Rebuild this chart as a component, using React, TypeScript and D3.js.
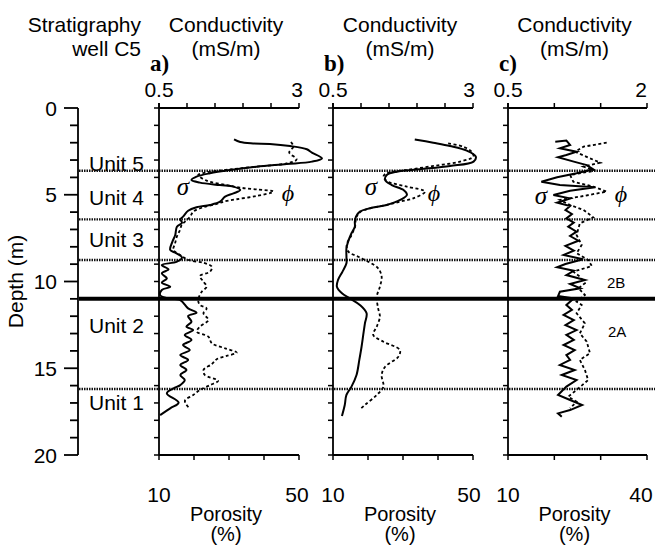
import React from "react";
import * as d3 from "d3";

// ---------- DATA (depth in m, conductivity in mS/m, porosity in %) ----------
const depthTicksMajor = [0, 5, 10, 15, 20];
const depthTicksMinor = d3.range(0, 21, 1);

const unitNames = ["Unit 5", "Unit 4", "Unit 3", "Unit 2", "Unit 1"];
const unitLabelDepths = [3.17, 5.16, 7.58, 12.54, 16.97];
const unitBoundaries = [3.62, 6.42, 8.76, 16.2];
const subunitBoundary = 11.0;

// Panel a
const aSigma: [number, number][] = [
  [1.81, 1.84], [1.96, 1.95], [2.04, 2.18], [2.07, 2.48], [2.19, 2.84], [2.38, 3.14], [2.57, 3.23], [2.9, 3.41],
  [3.09, 3.23], [3.23, 2.78], [3.38, 2.24], [3.57, 1.77], [3.76, 1.41], [3.96, 1.17], [4.15, 1.08], [4.3, 1.23],
  [4.44, 1.59], [4.53, 1.83], [4.73, 1.95], [4.92, 1.83], [5.11, 1.68], [5.4, 1.59], [5.59, 1.41], [5.72, 1.17],
  [5.92, 1.02], [6.26, 0.93], [6.42, 0.88], [6.61, 0.91], [6.84, 0.82], [7.32, 0.79], [7.7, 0.74], [8.18, 0.7],
  [8.34, 0.79], [8.61, 0.91], [8.86, 0.82], [9.05, 0.55], [9.3, 0.67], [9.53, 0.55], [9.82, 0.64], [10.07, 0.55],
  [10.3, 0.7], [10.49, 0.55], [10.78, 0.52], [10.95, 0.64], [11.07, 0.88], [11.55, 1.02], [11.8, 1.17], [11.99, 1.02],
  [12.32, 1.08], [12.6, 0.99], [12.8, 1.11], [13.08, 0.96], [13.37, 1.08], [13.66, 0.93], [13.95, 1.05], [14.24, 0.88],
  [14.52, 1.02], [14.81, 0.88], [15.1, 0.99], [15.39, 0.88], [15.68, 0.96], [15.97, 0.88], [16.16, 0.76], [16.45, 0.64],
  [16.98, 0.85], [17.31, 0.7], [17.7, 0.52],
];
const aPhi: [number, number][] = [
  [1.96, 47.7], [2.23, 48.4], [2.56, 47.2], [2.96, 49.3], [3.19, 46.5], [3.38, 37.9], [3.54, 30.3], [3.71, 23.6],
  [3.86, 21.2], [4.19, 23.6], [4.44, 29.3], [4.59, 33.1], [4.69, 37.9], [4.82, 42.7], [5.07, 37.9], [5.26, 32.2],
  [5.4, 28.4], [5.53, 26.5], [5.72, 22.7], [5.97, 19.8], [6.26, 18.9], [6.46, 17.9], [6.74, 16.5], [7.03, 16.0],
  [7.42, 15.1], [7.8, 14.6], [8.18, 14.1], [8.47, 16.0], [8.76, 18.4], [8.92, 22.7], [9.15, 25.1], [9.43, 24.6],
  [9.68, 21.7], [10.01, 22.7], [10.3, 23.6], [10.59, 22.2], [11.07, 21.2], [11.35, 21.7], [11.55, 23.6], [11.83, 22.7],
  [12.22, 24.1], [12.6, 21.7], [12.89, 20.8], [13.18, 24.1], [13.56, 25.1], [13.85, 28.9], [14.1, 32.2], [14.29, 29.3],
  [14.48, 26.5], [14.76, 25.1], [15.1, 22.7], [15.39, 23.1], [15.72, 26.9], [15.97, 24.6], [16.25, 21.7], [16.54, 19.8],
  [16.87, 17.4], [17.25, 18.4],
];

// Panel b
const bSigma: [number, number][] = [
  [1.81, 1.96], [2.0, 2.29], [2.19, 2.59], [2.46, 2.89], [2.8, 3.05], [3.09, 3.01], [3.34, 2.59], [3.53, 2.05],
  [3.67, 1.64], [3.86, 1.46], [4.15, 1.43], [4.44, 1.55], [4.73, 1.76], [5.01, 1.82], [5.3, 1.7], [5.59, 1.46],
  [5.78, 1.16], [5.97, 0.98], [6.26, 0.91], [6.55, 0.89], [6.84, 0.89], [7.22, 0.83], [7.7, 0.77], [8.09, 0.74],
  [8.57, 0.74], [8.95, 0.74], [9.43, 0.67], [9.91, 0.59], [10.3, 0.57], [10.68, 0.66], [10.97, 0.8], [11.35, 0.98],
  [11.83, 1.1], [12.41, 1.07], [13.08, 1.04], [13.76, 1.01], [14.52, 0.97], [15.39, 0.92], [16.06, 0.83], [16.54, 0.74],
  [17.12, 0.71], [17.75, 0.66],
];
const bPhi: [number, number][] = [
  [2.04, 42.9], [2.23, 47.2], [2.52, 49.6], [2.8, 50.1], [3.09, 46.3], [3.34, 38.7], [3.57, 31.1], [3.76, 25.3],
  [3.96, 24.4], [4.25, 25.8], [4.53, 31.1], [4.82, 36.3], [5.21, 32.9], [5.4, 29.1], [5.59, 25.3], [5.78, 20.6],
  [6.01, 17.7], [6.33, 16.6], [6.84, 16.3], [7.32, 15.3], [7.9, 13.9], [8.28, 14.4], [8.57, 17.2], [8.86, 20.1],
  [9.24, 22.9], [9.72, 23.9], [10.3, 23.4], [10.88, 22.5], [11.55, 22.9], [12.03, 23.4], [12.6, 22.5], [13.08, 21.5],
  [13.47, 24.4], [13.95, 29.1], [14.33, 28.7], [14.91, 24.9], [15.39, 23.9], [16.06, 24.4], [16.54, 22.5], [17.12, 19.1],
  [17.37, 17.7],
];

// Panel c
const cSigma: [number, number][] = [
  [1.94, 1.01], [1.88, 1.13], [2.13, 1.17], [2.32, 1.06], [2.52, 1.24], [2.71, 1.13], [2.84, 1.04], [3.09, 1.21],
  [3.29, 1.35], [3.53, 1.42], [3.76, 1.24], [3.99, 1.03], [4.25, 0.86], [4.44, 1.06], [4.57, 1.44], [4.77, 1.17],
  [5.01, 0.99], [5.21, 1.17], [5.46, 1.03], [5.65, 1.17], [5.88, 1.12], [6.11, 1.19], [6.36, 1.13], [6.61, 1.21],
  [6.84, 1.15], [7.13, 1.24], [7.38, 1.17], [7.65, 1.26], [7.95, 1.12], [8.22, 1.21], [8.47, 1.1], [8.72, 1.31],
  [8.99, 1.12], [9.18, 1.03], [9.38, 1.21], [9.63, 1.13], [9.91, 1.33], [10.14, 1.17], [10.39, 1.28], [10.59, 1.06],
  [10.84, 1.04], [10.97, 1.21], [11.35, 1.13], [11.64, 1.19], [11.93, 1.1], [12.22, 1.21], [12.51, 1.12], [12.8, 1.24],
  [13.08, 1.13], [13.37, 1.21], [13.66, 1.1], [13.95, 1.22], [14.24, 1.13], [14.52, 1.17], [14.81, 1.06], [15.1, 1.22],
  [15.39, 1.08], [15.68, 1.24], [16.06, 1.13], [16.54, 1.04], [16.83, 1.17], [17.12, 1.3], [17.41, 1.17], [17.6, 1.04],
  [17.79, 1.08],
];
const cPhi: [number, number][] = [
  [2.0, 31.3], [2.23, 26.3], [2.52, 24.5], [2.9, 27.7], [3.15, 29.9], [3.38, 26.3], [3.61, 28.8], [3.86, 23.4],
  [4.25, 24.1], [4.53, 28.4], [4.82, 31.3], [5.11, 25.5], [5.3, 21.2], [5.59, 23.4], [5.88, 26.3], [6.3, 28.4],
  [6.65, 25.5], [7.32, 24.8], [7.9, 25.9], [8.37, 24.8], [8.76, 27.3], [9.11, 28.1], [9.43, 24.1], [9.72, 25.5],
  [10.1, 26.6], [10.39, 25.2], [10.78, 26.6], [11.16, 24.8], [11.35, 25.9], [11.83, 24.8], [12.41, 26.6], [12.99, 25.5],
  [13.47, 27.0], [14.14, 27.7], [14.52, 25.5], [15.1, 26.6], [15.68, 27.3], [16.25, 24.8], [16.64, 23.0], [16.93, 24.8],
  [17.31, 23.4],
];

const condTicksAB = [0.5, 1, 1.5, 2, 2.5, 3];
const condTicksC = [0.5, 1, 1.5, 2];
const porTicksAB = [10, 20, 30, 40, 50];
const porTicksC = [10, 20, 30, 40];

// ---------- LAYOUT ----------
const W = 655;
const H = 547;
const SANS = '"Liberation Sans", Arial, Helvetica, sans-serif';
const SERIF = '"Liberation Serif", "Times New Roman", serif';

type Panel = {
  label: string;
  x0: number;
  x1: number;
  condTicks: number[];
  porTicks: number[];
  sigma: [number, number][];
  phi: [number, number][];
  curve: d3.CurveFactory;
  sigmaPos: [number, number];
  phiPos: [number, number];
  lastLabelShift: number;
};

const panels: Panel[] = [
  { label: "a)", x0: 159, x1: 299, condTicks: condTicksAB, porTicks: porTicksAB, sigma: aSigma, phi: aPhi,
    curve: d3.curveCatmullRom.alpha(0.5), sigmaPos: [183, 195], phiPos: [288, 201], lastLabelShift: -2 },
  { label: "b)", x0: 333, x1: 473, condTicks: condTicksAB, porTicks: porTicksAB, sigma: bSigma, phi: bPhi,
    curve: d3.curveCatmullRom.alpha(0.5), sigmaPos: [371, 195], phiPos: [434, 201], lastLabelShift: -4 },
  { label: "c)", x0: 508, x1: 647, condTicks: condTicksC, porTicks: porTicksC, sigma: cSigma, phi: cPhi,
    curve: d3.curveLinear, sigmaPos: [541, 204], phiPos: [621, 202], lastLabelShift: -6 },
];

export default function App() {
  const y = d3.scaleLinear().domain([0, 20]).range([108, 455]);
  const yTop = y(0);
  const yBot = y(20);
  const depthAxisX = 78;

  return (
    <svg
      width={W}
      height={H}
      viewBox={`0 0 ${W} ${H}`}
      style={{ position: "absolute", left: 0, top: 0, background: "#fff" }}
      fontFamily={SANS}
    >
      {/* Header: stratigraphy */}
      <text x={141} y={32} fontSize={21} textAnchor="end">Stratigraphy</text>
      <text x={141} y={56} fontSize={21} textAnchor="end">well C5</text>

      {/* Depth axis */}
      <line x1={depthAxisX} x2={depthAxisX} y1={yTop} y2={yBot} stroke="#000" strokeWidth={1.8} />
      {depthTicksMinor.map((d) => (
        <line key={"mt" + d} x1={depthAxisX - (depthTicksMajor.includes(d) ? 14 : 8)} x2={depthAxisX}
          y1={y(d)} y2={y(d)} stroke="#000" strokeWidth={1.8} />
      ))}
      {depthTicksMajor.map((d) => (
        <text key={"dl" + d} x={57} y={y(d)} dy="0.36em" fontSize={21} textAnchor="end">{d}</text>
      ))}
      <text transform={`translate(23,${(yTop + yBot) / 2}) rotate(-90)`} fontSize={21} textAnchor="middle">Depth (m)</text>

      {/* Unit labels */}
      {unitNames.map((n, i) => (
        <text key={n} x={89} y={y(unitLabelDepths[i])} dy="0.36em" fontSize={21}>{n}</text>
      ))}

      {/* Boundaries */}
      {unitBoundaries.map((d) => (
        <line key={"ub" + d} x1={depthAxisX + 1} x2={W} y1={y(d)} y2={y(d)} stroke="#111"
          strokeWidth={2.4} strokeDasharray="1.5,1" />
      ))}
      <line x1={depthAxisX + 1} x2={W} y1={y(subunitBoundary)} y2={y(subunitBoundary)} stroke="#000" strokeWidth={4} />

      {panels.map((p) => {
        const xc = d3.scaleLinear().domain([p.condTicks[0], p.condTicks[p.condTicks.length - 1]]).range([p.x0, p.x1]);
        const xp = d3.scaleLinear().domain([p.porTicks[0], p.porTicks[p.porTicks.length - 1]]).range([p.x0, p.x1]);
        const sLine = d3.line<[number, number]>().x((d) => xc(d[1])).y((d) => y(d[0])).curve(p.curve);
        const pLine = d3.line<[number, number]>().x((d) => xp(d[1])).y((d) => y(d[0])).curve(p.curve);
        const cx = (p.x0 + p.x1) / 2 - 3;
        const cFirst = p.condTicks[0];
        const cLast = p.condTicks[p.condTicks.length - 1];
        const pFirst = p.porTicks[0];
        const pLast = p.porTicks[p.porTicks.length - 1];
        return (
          <g key={p.label}>
            <text x={cx} y={32} fontSize={21} textAnchor="middle">Conductivity</text>
            <text x={cx} y={56} fontSize={21} textAnchor="middle">(mS/m)</text>
            <text x={p.x0 - 9} y={71} fontSize={23} fontWeight="bold" fontFamily={SERIF}>{p.label}</text>

            {/* top axis */}
            <line x1={p.x0} x2={p.x1} y1={yTop} y2={yTop} stroke="#000" strokeWidth={1.8} />
            {p.condTicks.map((t) => (
              <line key={"ct" + t} x1={xc(t)} x2={xc(t)} y1={yTop} y2={yTop - 5} stroke="#000" strokeWidth={1.5} />
            ))}
            <text x={xc(cFirst)} y={97} fontSize={21} textAnchor="middle">{cFirst}</text>
            <text x={xc(cLast) + p.lastLabelShift} y={97} fontSize={21} textAnchor="middle">{cLast}</text>

            {/* left axis */}
            <line x1={p.x0} x2={p.x0} y1={yTop - 5} y2={yBot} stroke="#000" strokeWidth={1.8} />
            {depthTicksMinor.map((d) => (
              <line key={"pt" + d} x1={p.x0 - 5} x2={p.x0} y1={y(d)} y2={y(d)} stroke="#000" strokeWidth={1.5} />
            ))}

            {/* bottom axis */}
            <line x1={p.x0} x2={p.x1} y1={yBot} y2={yBot} stroke="#000" strokeWidth={1.8} />
            {p.porTicks.map((t) => (
              <line key={"bt" + t} x1={xp(t)} x2={xp(t)} y1={yBot} y2={yBot + 5} stroke="#000" strokeWidth={1.5} />
            ))}
            <text x={xp(pFirst)} y={502} fontSize={21} textAnchor="middle">{pFirst}</text>
            <text x={xp(pLast) + p.lastLabelShift} y={502} fontSize={21} textAnchor="middle">{pLast}</text>
            <text x={cx} y={521} fontSize={20} textAnchor="middle">Porosity</text>
            <text x={cx} y={541} fontSize={20} textAnchor="middle">(%)</text>

            {/* curves */}
            <path d={pLine(p.phi) || ""} fill="none" stroke="#000" strokeWidth={1.8} strokeDasharray="3,2.5" />
            <path d={sLine(p.sigma) || ""} fill="none" stroke="#000" strokeWidth={2} />

            <text x={p.sigmaPos[0]} y={p.sigmaPos[1]} fontSize={25} fontStyle="italic" fontFamily={SERIF} textAnchor="middle">σ</text>
            <text x={p.phiPos[0]} y={p.phiPos[1]} fontSize={24} fontStyle="italic" fontFamily={SERIF} textAnchor="middle">ϕ</text>
          </g>
        );
      })}

      <text x={607} y={288} fontSize={15}>2B</text>
      <text x={608} y={337} fontSize={15}>2A</text>
    </svg>
  );
}
